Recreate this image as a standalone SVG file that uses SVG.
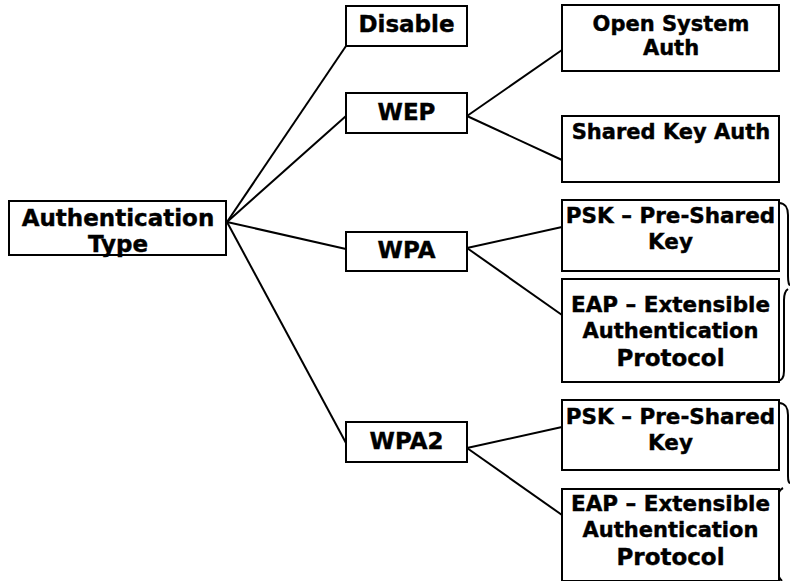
<svg xmlns="http://www.w3.org/2000/svg" width="790" height="581" viewBox="0 0 790 581">
<style>
.box{fill:#fff;stroke:#000;stroke-width:2}
.ln{stroke:#000;stroke-width:2;fill:none}
.t{font-family:"DejaVu Sans","Verdana",sans-serif;font-weight:bold;fill:#000;stroke:#000;stroke-width:0.4;text-anchor:middle}
.b{font-size:23px}
.s{font-size:21px}
.m{font-size:21.5px}
</style>
<rect width="790" height="581" fill="#fff"/>
<g id="connectors">
<line class="ln" x1="227" y1="222" x2="346" y2="46"/>
<line class="ln" x1="227" y1="222" x2="346" y2="116"/>
<line class="ln" x1="227" y1="222" x2="346" y2="249"/>
<line class="ln" x1="227" y1="222" x2="346" y2="443"/>
<line class="ln" x1="467" y1="116" x2="562" y2="50"/>
<line class="ln" x1="467" y1="116" x2="562" y2="160"/>
<line class="ln" x1="467" y1="248" x2="562" y2="227"/>
<line class="ln" x1="467" y1="248" x2="562" y2="315"/>
<line class="ln" x1="467" y1="448" x2="562" y2="427"/>
<line class="ln" x1="467" y1="448" x2="562" y2="515"/>
<path class="ln" d="M779,203 C785,203 788,208 788,215 L788,276 C788,282 789,285 790,285 M788,289 C785,291 784,294 784,300 L784,371 C784,378 781,381 777,381"/>
<path class="ln" d="M779,403 C785,403 788,408 788,415 L788,476 C788,481 789,483 790,483 M783,488 C779,490 777,495 777,502 L777,568 C777,574 779,578 782,581"/>
</g>
<g id="auth-type">
<rect class="box" x="9" y="201" width="217" height="54"/>
<text class="t b" x="118" y="226">Authentication</text>
<text class="t b" x="118" y="252">Type</text>
</g>
<g id="disable">
<rect class="box" x="346" y="6" width="121" height="40"/>
<text class="t b" x="406.5" y="32">Disable</text>
</g>
<g id="wep">
<rect class="box" x="346" y="93" width="121" height="40"/>
<text class="t b" x="406.5" y="120">WEP</text>
</g>
<g id="wpa">
<rect class="box" x="346" y="232" width="121" height="39"/>
<text class="t b" x="406.5" y="258">WPA</text>
</g>
<g id="wpa2">
<rect class="box" x="346" y="422" width="121" height="40"/>
<text class="t b" x="406.5" y="449">WPA2</text>
</g>
<g id="open-system">
<rect class="box" x="562" y="5" width="217" height="66"/>
<text class="t s" x="671" y="31">Open System</text>
<text class="t s" x="671" y="55">Auth</text>
</g>
<g id="shared-key">
<rect class="box" x="562" y="116" width="217" height="66"/>
<text class="t s" x="671" y="139">Shared Key Auth</text>
</g>
<g id="wpa-psk">
<rect class="box" x="562" y="200" width="217" height="71"/>
<text class="t m" x="670.5" y="223">PSK – Pre-Shared</text>
<text class="t m" x="670.5" y="249">Key</text>
</g>
<g id="wpa-eap">
<rect class="box" x="562" y="279" width="217" height="103"/>
<text class="t m" x="670.5" y="312">EAP – Extensible</text>
<text class="t s" x="670.5" y="338">Authentication</text>
<text class="t b" x="670.5" y="366">Protocol</text>
</g>
<g id="wpa2-psk">
<rect class="box" x="562" y="400" width="217" height="70"/>
<text class="t m" x="670.5" y="424">PSK – Pre-Shared</text>
<text class="t m" x="670.5" y="450">Key</text>
</g>
<g id="wpa2-eap">
<rect class="box" x="562" y="489" width="217" height="92"/>
<text class="t m" x="670.5" y="511">EAP – Extensible</text>
<text class="t s" x="670.5" y="537">Authentication</text>
<text class="t b" x="670.5" y="565">Protocol</text>
</g>
</svg>
